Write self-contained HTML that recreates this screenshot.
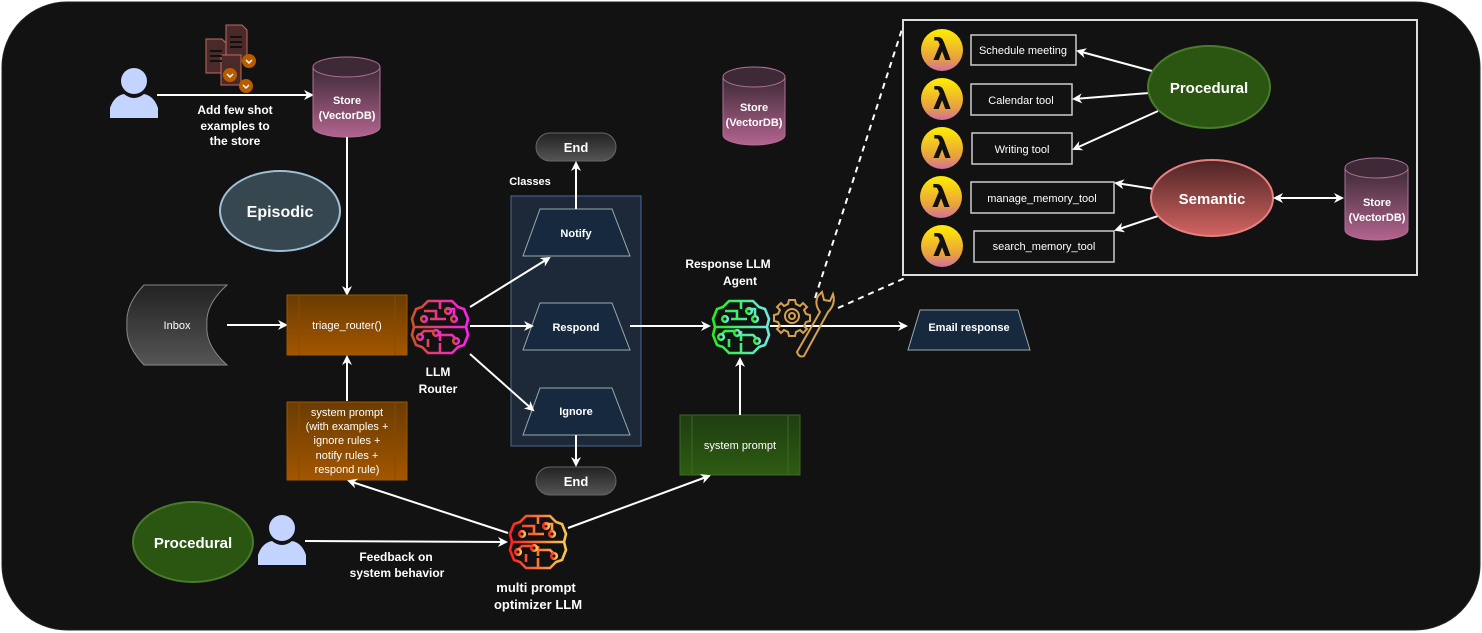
<!DOCTYPE html>
<html><head><meta charset="utf-8"><style>
html,body{margin:0;padding:0;background:#fff;width:1482px;height:633px;overflow:hidden}
text{font-family:"Liberation Sans",Arial,sans-serif;fill:#fff}
.b{font-weight:bold}
</style></head><body>
<svg width="1482" height="633" viewBox="0 0 1482 633" xmlns="http://www.w3.org/2000/svg">
<defs>
<marker id="a" markerWidth="10" markerHeight="10" refX="8" refY="5" orient="auto" markerUnits="userSpaceOnUse"><path d="M0,0 L10,5 L0,10 L3,5 z" fill="#fff"/></marker>
<marker id="as" markerWidth="10" markerHeight="10" refX="2" refY="5" orient="auto" markerUnits="userSpaceOnUse"><path d="M10,0 L0,5 L10,10 L7,5 z" fill="#fff"/></marker>
<linearGradient id="cyl" x1="0" y1="0" x2="0" y2="1"><stop offset="0" stop-color="#3d2a36"/><stop offset="1" stop-color="#b3648f"/></linearGradient>
<linearGradient id="org" x1="0" y1="0" x2="0" y2="1"><stop offset="0" stop-color="#6a3c02"/><stop offset="1" stop-color="#a35600"/></linearGradient>
<linearGradient id="grn" x1="0" y1="0" x2="0" y2="1"><stop offset="0" stop-color="#1f3d12"/><stop offset="1" stop-color="#2e5c12"/></linearGradient>
<linearGradient id="gry" x1="0" y1="0" x2="0" y2="1"><stop offset="0" stop-color="#222"/><stop offset="1" stop-color="#555"/></linearGradient>
<linearGradient id="sem" x1="0" y1="0" x2="0" y2="1"><stop offset="0" stop-color="#4e2424"/><stop offset="1" stop-color="#d26462"/></linearGradient>
<linearGradient id="lam" x1="0" y1="0" x2="0" y2="1"><stop offset="0" stop-color="#ffee00"/><stop offset="0.7" stop-color="#e8a040"/><stop offset="1" stop-color="#d070a0"/></linearGradient>
<linearGradient id="br1" x1="0" y1="0" x2="1" y2="0"><stop offset="0" stop-color="#d0502a"/><stop offset="1" stop-color="#ff20f0"/></linearGradient>
<linearGradient id="br2" x1="0" y1="0" x2="1" y2="0"><stop offset="0" stop-color="#22ee22"/><stop offset="1" stop-color="#70e8e0"/></linearGradient>
<linearGradient id="br3" x1="0" y1="0" x2="1" y2="0"><stop offset="0" stop-color="#ff2020"/><stop offset="1" stop-color="#f8c850"/></linearGradient>
<g id="brain" fill="none" stroke-width="2.6">
<path d="M30,4 L18,4 L12,10 L6,12 L2,22 L4,30 L2,38 L6,48 L12,50 L18,56 L30,56 L42,56 L48,50 L54,48 L58,38 L56,30 L58,22 L54,12 L48,10 L42,4 Z"/>
<path d="M4,30 H56 M30,4 V12 M30,56 V46 M14,14 H26 V22 M20,22 H36 M36,12 H44 V20 M10,38 L14,34 H24 M30,34 V44 M30,38 H42 L46,42 M18,42 V50"/>
<circle cx="14" cy="22" r="2.8"/><circle cx="44" cy="22" r="2.8"/><circle cx="10" cy="40" r="2.8"/><circle cx="26" cy="36" r="2.8"/><circle cx="46" cy="44" r="2.8"/><circle cx="38" cy="14" r="2.8"/>
</g>
<g id="person"><circle cx="24" cy="13" r="13" fill="#c2d4ff"/><path d="M0,50 L0,40 Q4,28 14,26 Q24,34 34,26 Q44,28 48,40 L48,50 Z" fill="#c2d4ff"/></g>
<g id="lambda"><circle cx="0" cy="0" r="21" fill="url(#lam)"/><text x="0" y="10" text-anchor="middle" class="b" style="font-size:30px;fill:#111;font-family:'DejaVu Sans',sans-serif">λ</text></g>
</defs>
<rect x="2" y="2" width="1478" height="628" rx="65" fill="#121212" stroke="#222" />

<!-- top-left -->
<use href="#person" x="110" y="68"/>
<g transform="translate(205,25)">
<path d="M1,14 H17 L22,19 V48 H1 Z" fill="#4a2a28" stroke="#c06a60"/>
<path d="M21,0 H37 L42,5 V36 H21 Z" fill="#4a2a28" stroke="#c06a60"/>
<path d="M16,30 H36 V60 H16Z" fill="#4a2a28" stroke="#c06a60"/>
<path d="M5,26h12M5,31h12M5,36h12M25,12h12M25,17h12M25,22h12" stroke="#111" stroke-width="2"/>
<circle cx="44" cy="36" r="7" fill="#b85c00"/><circle cx="25" cy="50" r="7" fill="#b85c00"/><circle cx="41" cy="61" r="7" fill="#b85c00"/>
<path d="M41,35l3,3l3,-3M22,49l3,3l3,-3M38,60l3,3l3,-3" stroke="#fff" stroke-width="1.5" fill="none"/>
</g>
<line x1="157" y1="95" x2="312" y2="95" stroke="#fff" stroke-width="2" marker-end="url(#a)"/>
<text x="235" y="114" text-anchor="middle" class="b" font-size="12">Add few shot</text>
<text x="235" y="130" text-anchor="middle" class="b" font-size="12">examples to</text>
<text x="235" y="145" text-anchor="middle" class="b" font-size="12">the store</text>

<path d="M313,67 V127 A33,10 0 0 0 380,127 V67" fill="url(#cyl)" stroke="#b07098"/>
<ellipse cx="346.5" cy="67" rx="33.5" ry="10" fill="#3d2a36" stroke="#b07098"/>
<text x="347" y="104" text-anchor="middle" class="b" font-size="11">Store</text>
<text x="347" y="119" text-anchor="middle" class="b" font-size="11">(VectorDB)</text>
<line x1="347" y1="137" x2="347" y2="294" stroke="#fff" stroke-width="2" marker-end="url(#a)"/>

<ellipse cx="280" cy="211" rx="60" ry="40" fill="#37474f" stroke="#9fbfd6" stroke-width="2"/>
<text x="280" y="217" text-anchor="middle" class="b" font-size="16">Episodic</text>

<path d="M144,285 H227 Q205,305 207,325 Q205,345 227,365 H144 Q125,345 127,325 Q125,305 144,285 Z" fill="url(#gry)" stroke="#888"/>
<text x="177" y="329" text-anchor="middle" font-size="11">Inbox</text>
<line x1="227" y1="325" x2="286" y2="325" stroke="#fff" stroke-width="2" marker-end="url(#a)"/>

<rect x="287" y="295" width="120" height="60" fill="url(#org)" stroke="#a35600"/>
<line x1="299" y1="295" x2="299" y2="355" stroke="#8a4a00"/><line x1="395" y1="295" x2="395" y2="355" stroke="#8a4a00"/>
<text x="347" y="329" text-anchor="middle" font-size="11">triage_router()</text>
<line x1="347" y1="401" x2="347" y2="357" stroke="#fff" stroke-width="2" marker-end="url(#a)"/>
<rect x="287" y="402" width="120" height="78" fill="url(#org)" stroke="#a35600"/>
<line x1="299" y1="402" x2="299" y2="480" stroke="#8a4a00"/><line x1="395" y1="402" x2="395" y2="480" stroke="#8a4a00"/>
<g font-size="11" text-anchor="middle">
<text x="347" y="416">system prompt</text><text x="347" y="430">(with examples +</text><text x="347" y="444">ignore rules +</text><text x="347" y="459">notify rules +</text><text x="347" y="473">respond rule)</text></g>

<use href="#brain" x="410" y="297" stroke="url(#br1)"/>
<text x="438" y="376" text-anchor="middle" class="b" font-size="12">LLM</text>
<text x="438" y="393" text-anchor="middle" class="b" font-size="12">Router</text>

<rect x="511" y="196" width="130" height="250" fill="#1d2838" stroke="#4a6a9a"/>
<text x="530" y="185" text-anchor="middle" class="b" font-size="11">Classes</text>
<g fill="#16293f" stroke="#9aa">
<path d="M540,209 H612 L630,256 H523 Z"/><path d="M540,303 H612 L630,350 H523 Z"/><path d="M540,388 H612 L630,435 H523 Z"/></g>
<g class="b" font-size="11" text-anchor="middle"><text x="576" y="237">Notify</text><text x="576" y="331">Respond</text><text x="576" y="415">Ignore</text></g>
<rect x="536" y="133" width="80" height="28" rx="14" fill="url(#gry)" stroke="#666"/>
<rect x="536" y="467" width="80" height="28" rx="14" fill="url(#gry)" stroke="#666"/>
<text x="576" y="152" text-anchor="middle" class="b" font-size="13">End</text>
<text x="576" y="486" text-anchor="middle" class="b" font-size="13">End</text>
<line x1="576" y1="209" x2="576" y2="163" stroke="#fff" stroke-width="2" marker-end="url(#a)"/>
<line x1="576" y1="435" x2="576" y2="465" stroke="#fff" stroke-width="2" marker-end="url(#a)"/>
<line x1="470" y1="307" x2="549" y2="258" stroke="#fff" stroke-width="2" marker-end="url(#a)"/>
<line x1="470" y1="326" x2="532" y2="326" stroke="#fff" stroke-width="2" marker-end="url(#a)"/>
<line x1="470" y1="354" x2="533" y2="410" stroke="#fff" stroke-width="2" marker-end="url(#a)"/>
<line x1="630" y1="326" x2="709" y2="326" stroke="#fff" stroke-width="2" marker-end="url(#a)"/>

<text x="728" y="268" text-anchor="middle" class="b" font-size="12">Response LLM</text>
<text x="740" y="285" text-anchor="middle" class="b" font-size="12">Agent</text>
<use href="#brain" x="711" y="297" stroke="url(#br2)"/>
<line x1="770" y1="326" x2="906" y2="326" stroke="#fff" stroke-width="2" marker-end="url(#a)"/>
<g fill="none" stroke="#d4a050" stroke-width="2">
<path d="M789,300 h6 l1,4 l4,2 l3,-3 l4,4 l-3,3 l2,4 l4,1 v6 l-4,1 l-2,4 l3,3 l-4,4 l-3,-3 l-4,2 l-1,4 h-6 l-1,-4 l-4,-2 l-3,3 l-4,-4 l3,-3 l-2,-4 l-4,-1 v-6 l4,-1 l2,-4 l-3,-3 l4,-4 l3,3 l4,-2 z"/>
<circle cx="792" cy="316" r="7"/><circle cx="792" cy="316" r="3"/>
<path d="M797,352 L820,312 Q814,304 818,296 L822,292 L824,300 L830,301 L833,294 Q836,304 828,312 L804,356 Q799,358 797,352 Z"/>
</g>
<path d="M920,310 H1018 L1030,350 H908 Z" fill="#16293f" stroke="#9aa"/>
<text x="969" y="331" text-anchor="middle" class="b" font-size="11">Email response</text>
<line x1="815" y1="298" x2="905" y2="20" stroke="#fff" stroke-width="2" stroke-dasharray="6 5"/>
<line x1="838" y1="308" x2="905" y2="278" stroke="#fff" stroke-width="2" stroke-dasharray="6 5"/>

<path d="M723,77 V135 A31,10 0 0 0 785,135 V77" fill="url(#cyl)" stroke="#b07098"/>
<ellipse cx="754" cy="77" rx="31" ry="10" fill="#3d2a36" stroke="#b07098"/>
<text x="754" y="111" text-anchor="middle" class="b" font-size="11">Store</text>
<text x="754" y="126" text-anchor="middle" class="b" font-size="11">(VectorDB)</text>

<rect x="680" y="415" width="120" height="60" fill="url(#grn)" stroke="#3a6a22"/>
<line x1="692" y1="415" x2="692" y2="475" stroke="#3a6a22"/><line x1="788" y1="415" x2="788" y2="475" stroke="#3a6a22"/>
<text x="740" y="449" text-anchor="middle" font-size="11">system prompt</text>
<line x1="740" y1="415" x2="740" y2="359" stroke="#fff" stroke-width="2" marker-end="url(#a)"/>

<rect x="903" y="20" width="514" height="255" fill="#121212" stroke="#ddd" stroke-width="2"/>
<use href="#lambda" x="942" y="50"/><use href="#lambda" x="942" y="99"/><use href="#lambda" x="942" y="148"/><use href="#lambda" x="941" y="197"/><use href="#lambda" x="942" y="246"/>
<g fill="#121212" stroke="#ccc" stroke-width="1.5">
<rect x="971" y="35" width="105" height="30"/><rect x="971" y="84" width="101" height="31"/><rect x="972" y="133" width="100" height="31"/><rect x="971" y="182" width="143" height="31"/><rect x="974" y="231" width="140" height="31"/></g>
<g font-size="11" text-anchor="middle">
<text x="1023" y="54">Schedule meeting</text><text x="1021" y="104">Calendar tool</text><text x="1022" y="153">Writing tool</text><text x="1042" y="202">manage_memory_tool</text><text x="1044" y="250">search_memory_tool</text></g>
<line x1="1152" y1="71" x2="1078" y2="51" stroke="#fff" stroke-width="2" marker-end="url(#a)"/>
<line x1="1149" y1="93" x2="1074" y2="99" stroke="#fff" stroke-width="2" marker-end="url(#a)"/>
<line x1="1158" y1="111" x2="1074" y2="149" stroke="#fff" stroke-width="2" marker-end="url(#a)"/>
<line x1="1154" y1="189" x2="1116" y2="183" stroke="#fff" stroke-width="2" marker-end="url(#a)"/>
<line x1="1158" y1="216" x2="1116" y2="230" stroke="#fff" stroke-width="2" marker-end="url(#a)"/>
<ellipse cx="1209" cy="87" rx="61" ry="41" fill="#2a5612" stroke="#4a7a2a" stroke-width="2"/>
<text x="1209" y="93" text-anchor="middle" class="b" font-size="15">Procedural</text>
<ellipse cx="1212" cy="198" rx="61" ry="38" fill="url(#sem)" stroke="#e88080" stroke-width="2"/>
<text x="1212" y="204" text-anchor="middle" class="b" font-size="15">Semantic</text>
<line x1="1275" y1="198" x2="1342" y2="198" stroke="#fff" stroke-width="2" marker-end="url(#a)" marker-start="url(#as)"/>
<path d="M1345,168 V230 A31.5,10 0 0 0 1408,230 V168" fill="url(#cyl)" stroke="#b07098"/>
<ellipse cx="1376.5" cy="168" rx="31.5" ry="10" fill="#3d2a36" stroke="#b07098"/>
<text x="1377" y="206" text-anchor="middle" class="b" font-size="11">Store</text>
<text x="1377" y="221" text-anchor="middle" class="b" font-size="11">(VectorDB)</text>

<ellipse cx="193" cy="542" rx="60" ry="40" fill="#2a5612" stroke="#4a7a2a" stroke-width="2"/>
<text x="193" y="548" text-anchor="middle" class="b" font-size="15">Procedural</text>
<use href="#person" x="258" y="515"/>
<line x1="305" y1="541" x2="506" y2="542" stroke="#fff" stroke-width="2" marker-end="url(#a)"/>
<text x="396" y="561" text-anchor="middle" class="b" font-size="12">Feedback on</text>
<text x="397" y="577" text-anchor="middle" class="b" font-size="12">system behavior</text>
<use href="#brain" x="508" y="512" stroke="url(#br3)"/>
<text x="536" y="592" text-anchor="middle" class="b" font-size="13">multi prompt</text>
<text x="538" y="609" text-anchor="middle" class="b" font-size="13">optimizer LLM</text>
<line x1="508" y1="533" x2="349" y2="481" stroke="#fff" stroke-width="2" marker-end="url(#a)"/>
<line x1="568" y1="528" x2="709" y2="476" stroke="#fff" stroke-width="2" marker-end="url(#a)"/>
</svg>
</body></html>
